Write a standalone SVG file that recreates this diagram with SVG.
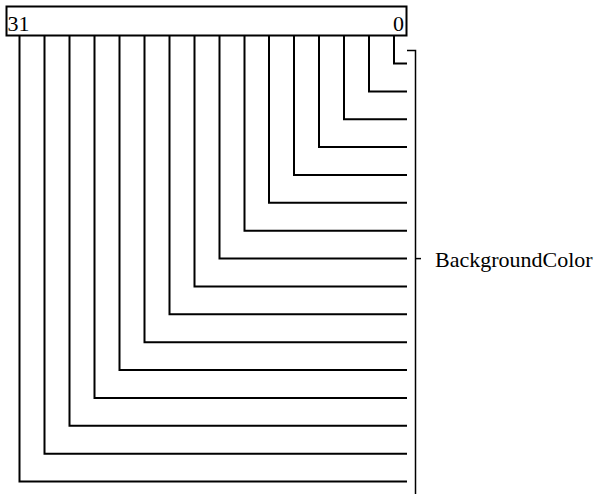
<svg xmlns="http://www.w3.org/2000/svg" width="601" height="494" viewBox="0 0 601 494">
<style>
.ln{fill:none;stroke:#000;stroke-width:2;stroke-linejoin:miter;stroke-linecap:square}
.br{fill:none;stroke:#000;stroke-width:1.5}
.t{font-family:"Liberation Serif","Times New Roman",serif;font-size:22px;fill:#000}
</style>
<rect width="601" height="494" fill="#fff"/>
<g id="register">
<rect x="6.5" y="6.5" width="400" height="29" fill="#fff" stroke="#000" stroke-width="2"/>
<text class="t" x="7.5" y="31">31</text>
<text class="t" x="404" y="31" text-anchor="end">0</text>
</g>
<g id="connectors">
<path class="ln" d="M394,36V63.5H406"/>
<path class="ln" d="M369,36V91.4H406"/>
<path class="ln" d="M344,36V119.2H406"/>
<path class="ln" d="M319,36V147.1H406"/>
<path class="ln" d="M294,36V175H406"/>
<path class="ln" d="M269,36V202.8H406"/>
<path class="ln" d="M244.5,36V230.7H406"/>
<path class="ln" d="M219.5,36V258.6H406"/>
<path class="ln" d="M194.5,36V286.5H406"/>
<path class="ln" d="M169.5,36V314.3H406"/>
<path class="ln" d="M144.5,36V342.2H406"/>
<path class="ln" d="M119.5,36V370.1H406"/>
<path class="ln" d="M94.5,36V397.9H406"/>
<path class="ln" d="M69.5,36V425.8H406"/>
<path class="ln" d="M44.5,36V453.7H406"/>
<path class="ln" d="M19.5,36V481.5H406"/>
</g>
<g id="bracket">
<path class="br" d="M407,50.5H415.5V494"/>
<path class="br" d="M415.5,258.6H421"/>
</g>
<g id="label">
<text class="t" x="435" y="267">BackgroundColor</text>
</g>
</svg>
